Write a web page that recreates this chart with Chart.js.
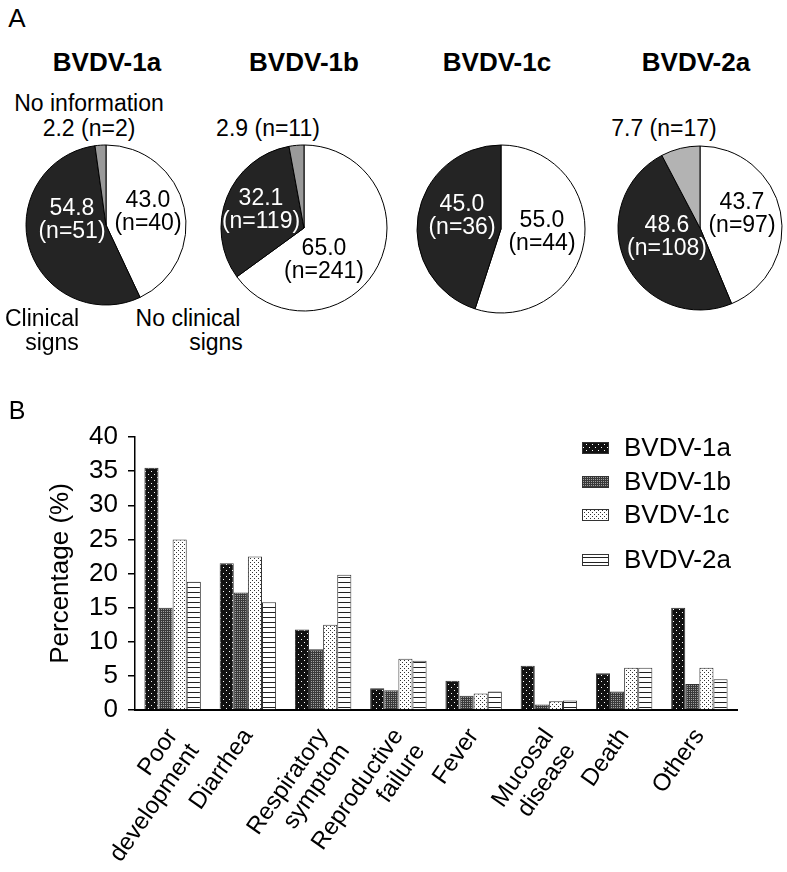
<!DOCTYPE html>
<html>
<head>
<meta charset="utf-8">
<script src="https://cdn.jsdelivr.net/npm/chart.js@4.4.1/dist/chart.umd.min.js"></script>
<style>
  body { margin: 0; background: #fff; font-family: "Liberation Sans", Arial, sans-serif; }
  #page { position: relative; width: 787px; height: 872px; overflow: hidden; }
  .t { position: absolute; transform: translate(-50%, -50%); line-height: 1; white-space: nowrap; color: #000; font-size: 23px; }
  .title { font-weight: bold; font-size: 26px; }
  canvas { position: absolute; }
</style>
</head>
<body>
<div id="page">
  <canvas id="bar" width="787" height="492" style="left:0;top:380px"></canvas>
</div>
<script>
// ---- data ----
const genotypes = ['BVDV-1a', 'BVDV-1b', 'BVDV-1c', 'BVDV-2a'];
// pie slices: [no clinical signs, clinical signs, no information]
const pct1a = [43.0, 54.8, 2.2];
const n1a = [40, 51, 2];
const pct1b = [65.0, 32.1, 2.9];
const n1b = [241, 119, 11];
const pct1c = [55.0, 45.0, 0];
const n1c = [44, 36, 0];
const pct2a = [43.7, 48.6, 7.7];
const n2a = [97, 108, 17];

const symptoms = [['Poor', 'development'], 'Diarrhea', ['Respiratory', 'symptom'], ['Reproductive', 'failure'],
  'Fever', ['Mucosal', 'disease'], 'Death', 'Others'];
const bar1a = [35.5, 21.5, 11.8, 3.2, 4.3, 6.5, 5.4, 15.0];
const bar1b = [15.0, 17.2, 8.9, 2.9, 2.1, 0.8, 2.7, 3.8];
const bar1c = [25.0, 22.5, 12.5, 7.5, 2.4, 1.3, 6.2, 6.2];
const bar2a = [18.8, 15.8, 19.8, 7.2, 2.7, 1.4, 6.2, 4.5];
const yMin = 0, yMax = 40, yStep = 5;

// ---- layout ----
const page = document.getElementById('page');
const pieLayout = [
  { cx: 106, cy: 225, r: 80, gray: '#9a9a9a', inner: [[42, -13], [-34, -5]] },
  { cx: 304, cy: 228, r: 83, gray: '#9a9a9a', inner: [[20, 32], [-43, -18]] },
  { cx: 501, cy: 229, r: 84, gray: '#b0b0b0', inner: [[41, 3], [-39, -13]] },
  { cx: 700, cy: 228, r: 82, gray: '#b3b3b3', inner: [[42, -14], [-33, 9]] }
];
const titleX = [107, 304, 497, 696];

function addText(txt, x, y, cls, size) {
  const d = document.createElement('div');
  d.className = 't' + (cls ? ' ' + cls : '');
  d.textContent = txt;
  d.style.left = x + 'px';
  d.style.top = y + 'px';
  if (size) d.style.fontSize = size + 'px';
  page.appendChild(d);
}

addText('A', 17, 18, '', 26);
addText('B', 17, 410, '', 25);
genotypes.forEach((g, i) => addText(g, titleX[i], 62, 'title'));

// outer labels
addText('No information', 89, 103);
addText(`${pct1a[2].toFixed(1)} (n=${n1a[2]})`, 89, 128);
addText(`${pct1b[2].toFixed(1)} (n=${n1b[2]})`, 268, 128);
addText(`${pct2a[2].toFixed(1)} (n=${n2a[2]})`, 664, 128);
addText('Clinical', 42, 318);
addText('signs', 52, 342);
addText('No clinical', 188, 318);
addText('signs', 216, 342);

// ---- pies ----
const pieInnerLabels = {
  id: 'pieInnerLabels',
  afterDatasetsDraw(chart, args, opts) {
    const ctx = chart.ctx;
    const meta = chart.getDatasetMeta(0);
    const arc0 = meta.data[0];
    ctx.save();
    ctx.font = '23px "Liberation Sans", Arial, sans-serif';
    ctx.textAlign = 'center';
    ctx.textBaseline = 'middle';
    opts.offsets.forEach((off, i) => {
      const v = opts.pct[i];
      if (!off || !v) return;
      ctx.fillStyle = opts.textColors[i];
      ctx.fillText(v.toFixed(1), arc0.x + off[0], arc0.y + off[1] - 11.5);
      ctx.fillText(`(n=${opts.n[i]})`, arc0.x + off[0], arc0.y + off[1] + 11.5);
    });
    ctx.restore();
  }
};

function makePie(idx, pct, n) {
  const L = pieLayout[idx];
  const c = document.createElement('canvas');
  const size = 2 * L.r + 6;
  c.width = size; c.height = size;
  c.style.left = (L.cx - L.r - 3) + 'px';
  c.style.top = (L.cy - L.r - 3) + 'px';
  page.appendChild(c);
  new Chart(c, {
    type: 'pie',
    data: {
      labels: ['No clinical signs', 'Clinical signs', 'No information'],
      datasets: [{
        data: pct,
        backgroundColor: ['#ffffff', '#242424', L.gray],
        borderColor: '#000',
        borderWidth: 1
      }]
    },
    options: {
      responsive: false,
      animation: false,
      devicePixelRatio: 1,
      radius: L.r,
      events: [],
      plugins: {
        legend: { display: false },
        tooltip: { enabled: false },
        pieInnerLabels: { offsets: L.inner, pct: pct, n: n, textColors: ['#000', '#fff'] }
      }
    },
    plugins: [pieInnerLabels]
  });
}

makePie(0, pct1a, n1a);
makePie(1, pct1b, n1b);
makePie(2, pct1c, n1c);
makePie(3, pct2a, n2a);

// ---- bar patterns ----
function pattern(w, h, draw) {
  const t = document.createElement('canvas');
  t.width = w; t.height = h;
  const g = t.getContext('2d');
  draw(g);
  return g.createPattern(t, 'repeat');
}
const pat1a = pattern(6, 6, g => {
  g.fillStyle = '#111'; g.fillRect(0, 0, 6, 6);
  g.fillStyle = '#fff'; g.fillRect(1, 1, 1, 1); g.fillRect(4, 4, 1, 1);
});
const pat1b = pattern(2, 2, g => {
  g.fillStyle = '#3a3a3a'; g.fillRect(0, 0, 2, 2);
  g.fillStyle = '#a0a0a0'; g.fillRect(1, 1, 1, 1);
});
const pat1c = pattern(4, 4, g => {
  g.fillStyle = '#fff'; g.fillRect(0, 0, 4, 4);
  g.fillStyle = '#333'; g.fillRect(0, 0, 1, 1); g.fillRect(2, 2, 1, 1);
});
const pat2a = pattern(5, 5, g => {
  g.fillStyle = '#fff'; g.fillRect(0, 0, 5, 5);
  g.fillStyle = '#222'; g.fillRect(0, 2, 5, 1);
});

// custom legend with uneven row spacing
const legendRows = [68, 102, 135, 180];
const patternLegend = {
  id: 'patternLegend',
  afterDraw(chart) {
    const ctx = chart.ctx;
    ctx.save();
    ctx.font = '26px "Liberation Sans", Arial, sans-serif';
    ctx.textBaseline = 'middle';
    chart.data.datasets.forEach((ds, i) => {
      const y = legendRows[i];
      ctx.fillStyle = ds.backgroundColor;
      ctx.fillRect(582, y - 6, 27, 12);
      ctx.strokeStyle = '#333';
      ctx.lineWidth = 1;
      ctx.strokeRect(582.5, y - 5.5, 26, 11);
      ctx.fillStyle = '#000';
      ctx.fillText(ds.label, 624, y + 1);
    });
    ctx.restore();
  }
};

const barSets = [bar1a, bar1b, bar1c, bar2a];
const barPats = [pat1a, pat1b, pat1c, pat2a];

new Chart(document.getElementById('bar'), {
  type: 'bar',
  data: {
    labels: symptoms,
    datasets: barSets.map((d, i) => ({
      label: genotypes[i],
      data: d,
      backgroundColor: barPats[i],
      borderColor: '#333',
      borderWidth: 1,
      categoryPercentage: 0.75,
      barPercentage: 1.0
    }))
  },
  options: {
    responsive: false,
    animation: false,
    devicePixelRatio: 1,
    events: [],
    layout: { padding: { top: 57, right: 50, left: 0, bottom: 0 } },
    plugins: { legend: { display: false }, tooltip: { enabled: false } },
    scales: {
      x: {
        grid: { display: false, drawTicks: false },
        border: { display: true, color: '#000', width: 2 },
        ticks: {
          autoSkip: false, minRotation: 55, maxRotation: 55, padding: 14,
          color: '#000', font: { size: 24, lineHeight: 1.1, family: '"Liberation Sans", Arial, sans-serif' }
        },
        afterFit: s => { s.height = 162; }
      },
      y: {
        min: yMin, max: yMax,
        grid: { display: true, drawOnChartArea: false, drawTicks: true, tickLength: 7, color: '#000', lineWidth: 1.5 },
        border: { display: true, color: '#000', width: 1.5 },
        ticks: {
          stepSize: yStep, autoSkip: false, padding: 10, color: '#000',
          font: { size: 26, family: '"Liberation Sans", Arial, sans-serif' }
        },
        title: {
          display: true, text: 'Percentage (%)', color: '#000',
          font: { size: 26, family: '"Liberation Sans", Arial, sans-serif' },
          padding: { top: 45, bottom: 0 }
        },
        afterFit: s => { s.width = 135; }
      }
    }
  },
  plugins: [patternLegend]
});
</script>
</body>
</html>
